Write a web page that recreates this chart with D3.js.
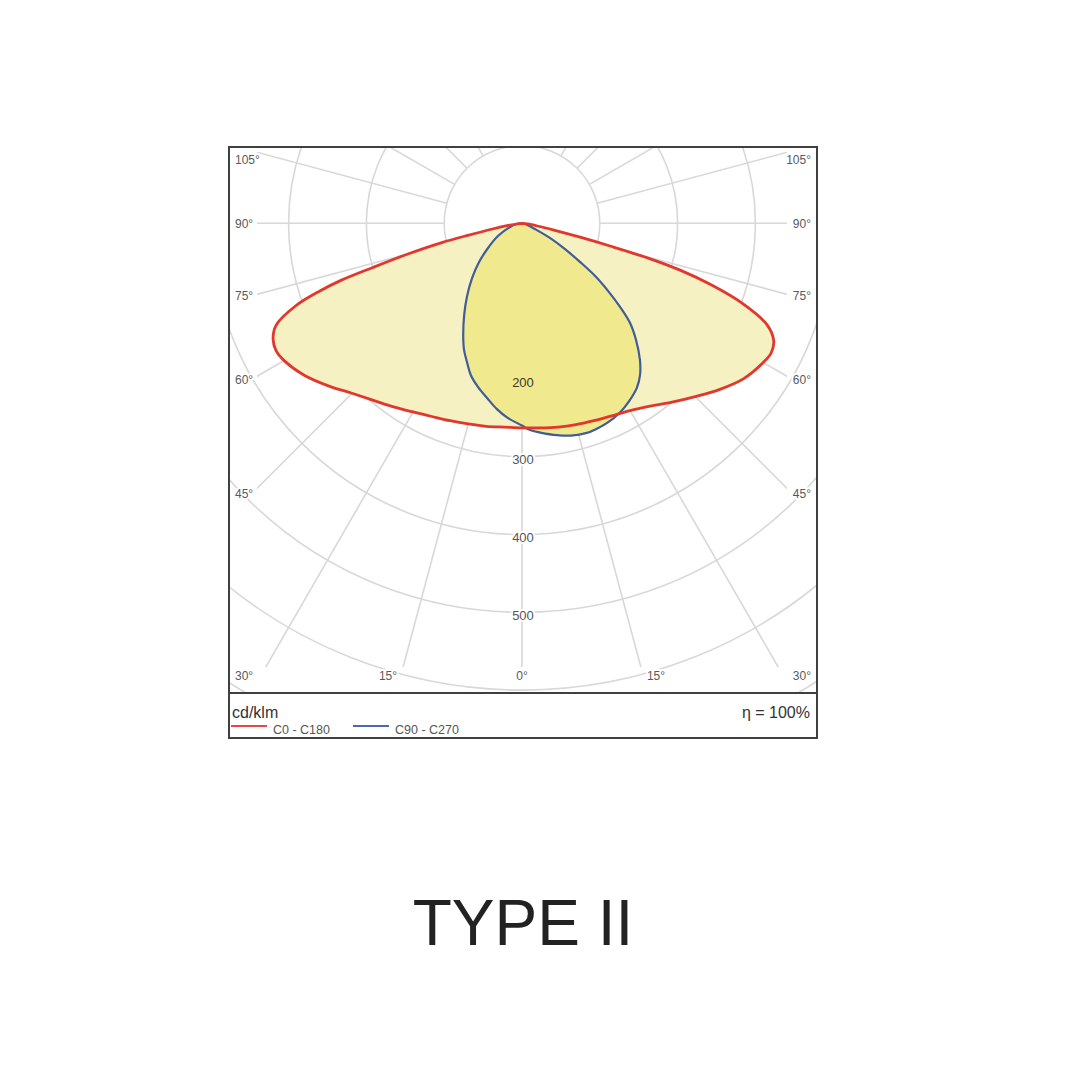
<!DOCTYPE html>
<html><head><meta charset="utf-8">
<script src="https://cdn.jsdelivr.net/npm/d3@7"></script>
<style>body{margin:0;background:#fff}svg{display:block}</style>
</head><body>
<svg id="c" width="1080" height="1080"></svg>
<script>
// ---- data (cd/klm versus gamma angle, degrees from nadir) ----
const redC0Angles  = [0,5,10,15,20,25,30,35,40,45,50,55,60,62.5,65,67.5,70,72,73.5,74.5,75.5,76.5,78,80,83,90];
const redC0Values  = [263,264,266,268,270,273,278,287,300,315,332,348,358,361,357,341,302,255,212,172,118,78,42,20,7,0];
const redC180Angles = [0,5,10,15,20,25,30,35,40,45,50,55,60,62.5,65,67.5,70,71.5,72.5,73.5,75,76.5,77.5,79,81,84,90];
const redC180Values = [263,263,265,267,270,274,280,288,297,309,325,341,353,356,353,342,309,274,244,200,150,106,70,40,18,6,0];
const blueC90Angles = [0,2.2,5,9.4,13,17.2,20,23.1,27.3,31,34.9,37.9,40.8,44.3,47.3,49.5,51.8,54.2,56.3,59.1,62.3,66.3,72,80,90];
const blueC90Values = [260,266,270,276,280,282,281,279,274,267,258,247,232,210,189,166,141,116,90,64,41,18,8,3,0];
const blueC270Angles = [0,4.1,7.7,11.3,15,18.6,21.6,24.6,27.8,32.3,37.1,42.4,48,54,62.1,72.9,82,90];
const blueC270Values = [260,251,241,229,218,206,192,179,162,139,117,95,74,54,35,16,7,0];

const circleValues = [100,200,300,400,500,600,700];
const valueLabels = [200,300,400,500];
const gridAngles = [0,15,30,45,60,75,90,105,120,135,150,165,180,195,210,225,240,255,270,285,300,315,330,345];
const sideLabelAngles = [30,45,60,75,90,105];
const bottomLabelAngles = [15,0];
const legendItems = ["C0 - C180","C90 - C270"];
const unitLabel = "cd/klm";
const effLabel = "η = 100%";
const title = "TYPE II";

// ---- layout ----
const svg = d3.select("#c");
const F = {x0:229, y0:147, x1:817, y1:693, y2:738};
const cx = 522, cy = 223.3;
const r = d3.scaleLinear().domain([0,100]).range([0,77.8]);
const rad = d => d*Math.PI/180;
const gridColor = "#d8d8d8";
const font = "'Liberation Sans', Arial, Helvetica, sans-serif";

svg.append("rect").attr("width",1080).attr("height",1080).attr("fill","#fff");
const defs = svg.append("defs");
defs.append("clipPath").attr("id","plotClip").append("rect")
  .attr("x",F.x0).attr("y",F.y0).attr("width",F.x1-F.x0).attr("height",F.y1-F.y0);
defs.append("clipPath").attr("id","rayClip").append("rect")
  .attr("x",257).attr("y",F.y0).attr("width",787-257).attr("height",667-F.y0);

const plot = svg.append("g").attr("clip-path","url(#plotClip)");
const centre = plot.append("g").attr("transform",`translate(${cx},${cy})`);

// circles
centre.selectAll("circle.grid").data(circleValues).join("circle")
  .attr("class","grid").attr("r",d=>r(d)).attr("fill","none")
  .attr("stroke",gridColor).attr("stroke-width",1.6);

// radial lines (gamma measured from downward direction)
const rays = plot.append("g").attr("clip-path","url(#rayClip)")
  .append("g").attr("transform",`translate(${cx},${cy})`);
rays.selectAll("line").data(gridAngles).join("line")
  .attr("x1",d=>r(100)*Math.sin(rad(d))).attr("y1",d=>r(100)*Math.cos(rad(d)))
  .attr("x2",d=>r(1000)*Math.sin(rad(d))).attr("y2",d=>r(1000)*Math.cos(rad(d)))
  .attr("stroke",gridColor).attr("stroke-width",1.6);

// curves
function half(angles, values, side){
  return angles.map((g,i)=>({theta: side>0 ? Math.PI - rad(g) : Math.PI + rad(g), v: values[i]}));
}
function outline(ra, rv, la, lv){
  const right = half(ra,rv,1).reverse();
  const left = half(la,lv,-1).slice(1);
  return right.concat(left);
}
const radial = d3.lineRadial().angle(d=>d.theta).radius(d=>r(d.v)).curve(d3.curveCatmullRom.alpha(0.5));
const redPath = radial(outline(redC0Angles,redC0Values,redC180Angles,redC180Values)) + "Z";
const bluePath = radial(outline(blueC90Angles,blueC90Values,blueC270Angles,blueC270Values)) + "Z";

const curves = svg.append("g").attr("transform",`translate(${cx},${cy})`);
curves.append("path").attr("d",redPath).attr("fill","#f5f1c2");
curves.append("path").attr("d",bluePath).attr("fill","#f1e98e");
curves.append("path").attr("d",bluePath).attr("fill","none").attr("stroke","#3f5d98").attr("stroke-width",2.2).attr("stroke-linejoin","round");
curves.append("path").attr("d",redPath).attr("fill","none").attr("stroke","#e2372c").attr("stroke-width",2.8).attr("stroke-linejoin","round");

// degree labels
const lab = svg.append("g").attr("font-family",font).attr("font-size",12).attr("fill","#5a5a5a");
function halo(sel){ return sel.attr("stroke","#fff").attr("stroke-width",4).attr("paint-order","stroke").attr("stroke-linejoin","round"); }
sideLabelAngles.forEach(g=>{
  const y = Math.max(160, Math.min(676, cy + 270/Math.tan(rad(g))));
  halo(lab.append("text").attr("x",235).attr("y",y).attr("dy","0.36em").attr("text-anchor","start").text(g+"°"));
  halo(lab.append("text").attr("x",811).attr("y",y).attr("dy","0.36em").attr("text-anchor","end").text(g+"°"));
});
bottomLabelAngles.forEach(g=>{
  const dx = 500*Math.tan(rad(g));
  [1,-1].forEach(s=>{
    if (g===0 && s<0) return;
    halo(lab.append("text").attr("x",cx + s*dx).attr("y",676).attr("dy","0.36em").attr("text-anchor","middle").text(g+"°"));
  });
});

// value labels
svg.append("g").attr("font-family",font).attr("font-size",13)
  .selectAll("text").data(valueLabels).join("text")
  .attr("x",cx+1).attr("y",d=>cy + r(d) + 3).attr("dy","0.36em").attr("text-anchor","middle")
  .attr("fill",d=>d===200?"#3a3a2a":"#555")
  .attr("stroke",d=>d===200?"none":"#fff").attr("stroke-width",4).attr("paint-order","stroke")
  .text(d=>d);

// frame
svg.append("rect").attr("x",F.x0).attr("y",F.y0).attr("width",F.x1-F.x0).attr("height",F.y2-F.y0)
  .attr("fill","none").attr("stroke","#404040").attr("stroke-width",2);
svg.append("line").attr("x1",F.x0).attr("x2",F.x1).attr("y1",F.y1).attr("y2",F.y1)
  .attr("stroke","#404040").attr("stroke-width",2);

// legend
const leg = svg.append("g").attr("font-family",font);
leg.append("text").attr("x",232).attr("y",712).attr("dy","0.36em").attr("font-size",16).attr("fill","#333").text(unitLabel);
leg.append("text").attr("x",810).attr("y",712).attr("dy","0.36em").attr("text-anchor","end").attr("font-size",16).attr("fill","#333").text(effLabel);
const legColors = ["#e8474a","#4d68b0"];
const legX = [231,353];
legendItems.forEach((t,i)=>{
  leg.append("line").attr("x1",legX[i]).attr("x2",legX[i]+36).attr("y1",726).attr("y2",726)
    .attr("stroke",legColors[i]).attr("stroke-width",2.2);
  leg.append("text").attr("x",legX[i]+42).attr("y",729).attr("dy","0.36em").attr("font-size",12.5).attr("fill","#555").text(t);
});

// title
svg.append("text").attr("x",523).attr("y",945).attr("text-anchor","middle")
  .attr("font-family",font).attr("font-size",64).attr("fill","#222").text(title);
</script>
</body></html>
